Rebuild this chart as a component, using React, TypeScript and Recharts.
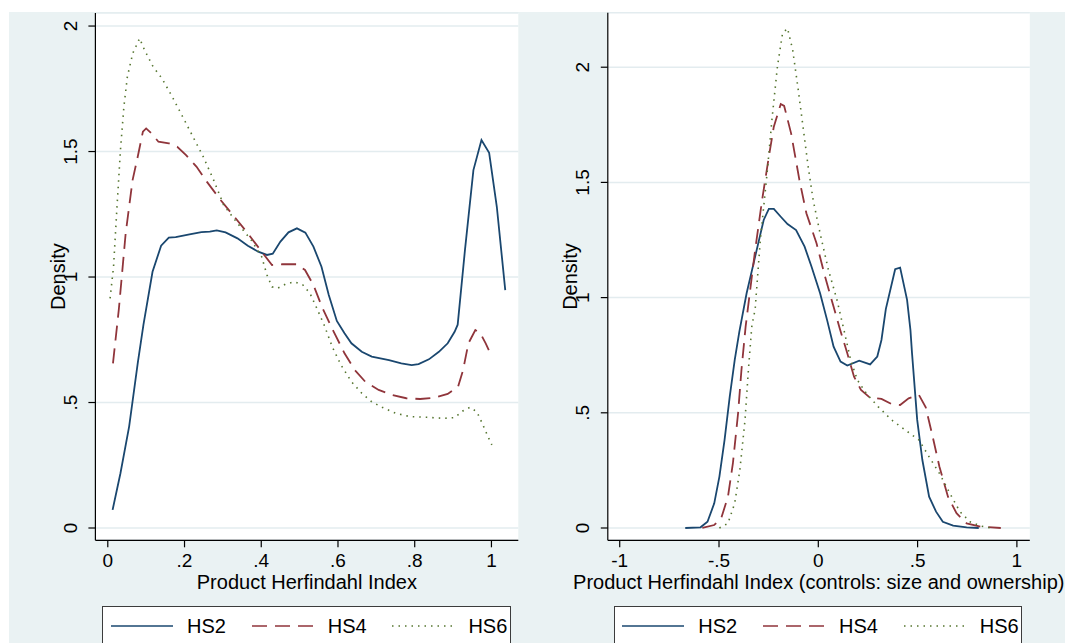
import React from 'react';
import { LineChart, Line, XAxis, YAxis, CartesianGrid, Legend } from 'recharts';

const FONT = '"Liberation Sans", Arial, Helvetica, sans-serif';

// ---------- data ----------
const seriesNames = ['HS2', 'HS4', 'HS6'];

const xTicksLeft = [0, 0.2, 0.4, 0.6, 0.8, 1];
const yTicksLeft = [0, 0.5, 1, 1.5, 2];
const xTicksRight = [-1, -0.5, 0, 0.5, 1];
const yTicksRight = [0, 0.5, 1, 1.5, 2];

const xTitleLeft = 'Product Herfindahl Index';
const xTitleRight = 'Product Herfindahl Index (controls: size and ownership)';
const yTitle = 'Density';

const hs2Left = [
  [0.0125, 0.072], [0.033, 0.218], [0.0556, 0.404], [0.078, 0.656], [0.093, 0.81], [0.1166, 1.021],
  [0.139, 1.125], [0.159, 1.157], [0.177, 1.159], [0.213, 1.17], [0.244, 1.179], [0.266, 1.181],
  [0.284, 1.186], [0.307, 1.178], [0.338, 1.154], [0.365, 1.125], [0.392, 1.101], [0.415, 1.088],
  [0.43, 1.093], [0.45, 1.141], [0.471, 1.178], [0.493, 1.194], [0.515, 1.177], [0.536, 1.121],
  [0.557, 1.041], [0.576, 0.928], [0.597, 0.825], [0.617, 0.776], [0.635, 0.736], [0.662, 0.702],
  [0.688, 0.683], [0.733, 0.669], [0.765, 0.656], [0.792, 0.649], [0.81, 0.653], [0.837, 0.672],
  [0.863, 0.702], [0.886, 0.736], [0.904, 0.782], [0.912, 0.81], [0.931, 1.108], [0.953, 1.426],
  [0.974, 1.546], [0.994, 1.495], [1.014, 1.28], [1.036, 0.948],
];
const hs4Left = [
  [0.0135, 0.656], [0.0287, 0.87], [0.0466, 1.174], [0.0646, 1.386], [0.078, 1.479], [0.0915, 1.579],
  [0.1, 1.592], [0.114, 1.572], [0.132, 1.539], [0.159, 1.533], [0.181, 1.519], [0.204, 1.486],
  [0.231, 1.44], [0.258, 1.38], [0.294, 1.307], [0.33, 1.24], [0.365, 1.174], [0.401, 1.101],
  [0.428, 1.048], [0.455, 1.051], [0.491, 1.051], [0.514, 1.028], [0.536, 0.968], [0.558, 0.882],
  [0.583, 0.8], [0.617, 0.696], [0.644, 0.629], [0.671, 0.583], [0.706, 0.55], [0.742, 0.53],
  [0.778, 0.517], [0.814, 0.514], [0.85, 0.519], [0.886, 0.534], [0.913, 0.563], [0.926, 0.629],
  [0.94, 0.736], [0.958, 0.789], [0.971, 0.776], [0.985, 0.736], [1.001, 0.683],
];
const hs6Left = [
  [0.006, 0.915], [0.015, 1.041], [0.024, 1.28], [0.033, 1.506], [0.042, 1.679], [0.051, 1.798],
  [0.065, 1.891], [0.083, 1.951], [0.096, 1.904], [0.118, 1.838], [0.141, 1.792], [0.168, 1.718],
  [0.195, 1.639], [0.222, 1.559], [0.249, 1.479], [0.276, 1.386], [0.302, 1.287], [0.338, 1.214],
  [0.374, 1.147], [0.401, 1.081], [0.415, 1.008], [0.428, 0.961], [0.442, 0.955], [0.464, 0.972],
  [0.486, 0.981], [0.509, 0.968], [0.527, 0.935], [0.545, 0.875], [0.565, 0.805], [0.585, 0.722],
  [0.608, 0.649], [0.635, 0.583], [0.662, 0.537], [0.688, 0.503], [0.715, 0.481], [0.751, 0.457],
  [0.787, 0.444], [0.832, 0.441], [0.877, 0.437], [0.904, 0.44], [0.926, 0.467], [0.944, 0.481],
  [0.962, 0.463], [0.976, 0.417], [0.989, 0.371], [1.001, 0.331],
];

const hs2Right = [
  [-0.67, 0], [-0.593, 0.003], [-0.558, 0.027], [-0.524, 0.107], [-0.498, 0.223], [-0.472, 0.382],
  [-0.446, 0.57], [-0.421, 0.729], [-0.398, 0.85], [-0.361, 1.019], [-0.318, 1.178], [-0.275, 1.337],
  [-0.249, 1.385], [-0.224, 1.385], [-0.189, 1.351], [-0.155, 1.319], [-0.112, 1.293], [-0.069, 1.221],
  [-0.034, 1.134], [0.009, 1.019], [0.045, 0.9], [0.077, 0.787], [0.112, 0.722], [0.146, 0.705],
  [0.206, 0.726], [0.261, 0.71], [0.297, 0.744], [0.318, 0.816], [0.34, 0.95], [0.387, 1.123],
  [0.412, 1.13], [0.447, 0.99], [0.464, 0.859], [0.472, 0.758], [0.498, 0.469], [0.524, 0.295],
  [0.558, 0.136], [0.593, 0.071], [0.627, 0.027], [0.679, 0.01], [0.747, 0.003], [0.808, 0],
];
const hs4Right = [
  [-0.584, 0], [-0.524, 0.013], [-0.489, 0.042], [-0.455, 0.136], [-0.43, 0.281], [-0.404, 0.498],
  [-0.387, 0.686], [-0.366, 0.874], [-0.318, 1.207], [-0.283, 1.424], [-0.249, 1.612], [-0.224, 1.742],
  [-0.189, 1.84], [-0.172, 1.832], [-0.137, 1.713], [-0.095, 1.51], [-0.06, 1.366], [-0.009, 1.236],
  [0.034, 1.091], [0.077, 0.96], [0.108, 0.866], [0.146, 0.758], [0.18, 0.657], [0.215, 0.599],
  [0.258, 0.567], [0.318, 0.56], [0.369, 0.538], [0.412, 0.534], [0.455, 0.563], [0.507, 0.577],
  [0.541, 0.524], [0.576, 0.396], [0.61, 0.266], [0.653, 0.136], [0.696, 0.064], [0.747, 0.02],
  [0.816, 0.006], [0.919, 0],
];
const hs6Right = [
  [-0.498, 0], [-0.455, 0.02], [-0.421, 0.107], [-0.395, 0.252], [-0.369, 0.469], [-0.352, 0.686],
  [-0.335, 0.874], [-0.318, 0.95], [-0.292, 1.25], [-0.258, 1.539], [-0.232, 1.785], [-0.206, 2.002],
  [-0.18, 2.147], [-0.155, 2.169], [-0.129, 2.075], [-0.103, 1.915], [-0.077, 1.742], [-0.051, 1.568],
  [-0.026, 1.424], [0.009, 1.279], [0.051, 1.12], [0.094, 0.99], [0.129, 0.86], [0.163, 0.729],
  [0.197, 0.642], [0.241, 0.585], [0.301, 0.527], [0.369, 0.469], [0.438, 0.425], [0.507, 0.382],
  [0.558, 0.309], [0.61, 0.237], [0.662, 0.151], [0.713, 0.071], [0.764, 0.027], [0.816, 0.009],
  [0.868, 0],
];

// ---------- styling ----------
const STYLES = [
  { color: '#1a476f', dash: undefined as string | undefined, width: 1.8, legendDash: undefined as string | undefined },
  { color: '#90353b', dash: '15 8', width: 1.8, legendDash: '15 8' },
  { color: '#55752f', dash: '1.5 5', width: 1.6, legendDash: '1.5 5' },
];

const toPts = (arr: number[][]) => arr.map(([x, y]) => ({ x, y }));

const fmt = (v: number) => {
  if (v === 0) return '0';
  if (Number.isInteger(v)) return String(v);
  return String(v).replace(/^(-?)0\./, '$1.');
};

const YTick = (props: any) => {
  const { x, y, payload } = props;
  return (
    <text
      x={x}
      y={y}
      transform={`rotate(-90 ${x} ${y})`}
      textAnchor="middle"
      dy="0.35em"
      fontSize={19}
      fontFamily={FONT}
      fill="#000"
    >
      {fmt(payload.value)}
    </text>
  );
};

const LegendBox = () => (
  <div
    style={{
      boxSizing: 'border-box',
      width: '100%',
      height: '100%',
      background: '#fff',
      border: '1px solid #3c3c3c',
      position: 'relative',
      fontFamily: FONT,
      fontSize: 20,
      color: '#000',
    }}
  >
    {seriesNames.map((name, i) => (
      <div
        key={name}
        style={{
          position: 'absolute',
          left: 7.7 + i * 140.7,
          top: -1,
          height: 40.6,
          display: 'flex',
          alignItems: 'center',
        }}
      >
        <svg width={62} height={4} style={{ display: 'block' }}>
          <line
            x1={0}
            y1={2}
            x2={62}
            y2={2}
            stroke={STYLES[i].color}
            strokeWidth={1.5}
            strokeDasharray={STYLES[i].legendDash}
          />
        </svg>
        <span style={{ marginLeft: 14, lineHeight: 1, whiteSpace: 'nowrap' }}>{name}</span>
      </div>
    ))}
  </div>
);

type PanelProps = {
  left: number;
  width: number;
  margin: { top: number; right: number; bottom: number; left: number };
  xDomain: [number, number];
  yDomain: [number, number];
  xTicks: number[];
  yTicks: number[];
  xTitle: string;
  series: number[][][];
  legendLeft: number;
};

const Panel = ({ left, width, margin, xDomain, yDomain, xTicks, yTicks, xTitle, series, legendLeft }: PanelProps) => (
  <div style={{ position: 'absolute', left, top: 0 }}>
    <LineChart width={width} height={643} margin={margin}>
      <CartesianGrid vertical={false} horizontal stroke="#e3ecef" strokeWidth={1.5} fill="#ffffff" />
      <XAxis
        dataKey="x"
        type="number"
        domain={xDomain}
        ticks={xTicks}
        interval={0}
        allowDataOverflow
        height={55}
        tickSize={7}
        tickMargin={6}
        tickFormatter={fmt}
        tick={{ fontSize: 19, fill: '#000', fontFamily: FONT }}
        axisLine={{ stroke: '#000', strokeWidth: 1.2 }}
        tickLine={{ stroke: '#000', strokeWidth: 1.2 }}
        label={{ value: xTitle, position: 'insideBottom', offset: 6, fontSize: 20, fill: '#000', fontFamily: FONT }}
      />
      <YAxis
        type="number"
        domain={yDomain}
        ticks={yTicks}
        interval={0}
        allowDataOverflow
        width={76}
        tickSize={7}
        tickMargin={18}
        tick={<YTick />}
        axisLine={{ stroke: '#000', strokeWidth: 1.2 }}
        tickLine={{ stroke: '#000', strokeWidth: 1.2 }}
        label={{ value: yTitle, angle: -90, position: 'center', fontSize: 20, fill: '#000', fontFamily: FONT }}
      />
      {series.map((s, i) => (
        <Line
          key={seriesNames[i]}
          name={seriesNames[i]}
          data={toPts(s)}
          dataKey="y"
          type="linear"
          dot={false}
          activeDot={false}
          stroke={STYLES[i].color}
          strokeWidth={STYLES[i].width}
          strokeDasharray={STYLES[i].dash}
          isAnimationActive={false}
        />
      ))}
      <Legend
        layout="horizontal"
        verticalAlign="middle"
        align="center"
        content={<LegendBox />}
        wrapperStyle={{ left: legendLeft, top: 605.7, width: 408.5, height: 50, bottom: 'auto', right: 'auto' }}
      />
    </LineChart>
  </div>
);

export default function App() {
  return (
    <div
      style={{
        position: 'absolute',
        left: 0,
        top: 0,
        width: 1065,
        height: 643,
        background: '#ffffff',
        overflow: 'hidden',
        fontFamily: FONT,
      }}
    >
      <div style={{ position: 'absolute', left: 9, top: 12, right: 0, bottom: 0, background: '#eaf2f3' }} />
      <Panel
        left={0}
        width={532}
        margin={{ top: 13, right: 13.7, bottom: 47.7, left: 19.4 }}
        xDomain={[-0.0323, 1.07]}
        yDomain={[-0.049, 2.052]}
        xTicks={xTicksLeft}
        yTicks={yTicksLeft}
        xTitle={xTitleLeft}
        series={[hs2Left, hs4Left, hs6Left]}
        legendLeft={102.3}
      />
      <Panel
        left={530}
        width={535}
        margin={{ top: 12.7, right: 35.2, bottom: 47.7, left: 1.8 }}
        xDomain={[-1.06, 1.065]}
        yDomain={[-0.0534, 2.2366]}
        xTicks={xTicksRight}
        yTicks={yTicksRight}
        xTitle={xTitleRight}
        series={[hs2Right, hs4Right, hs6Right]}
        legendLeft={83.6}
      />
    </div>
  );
}
